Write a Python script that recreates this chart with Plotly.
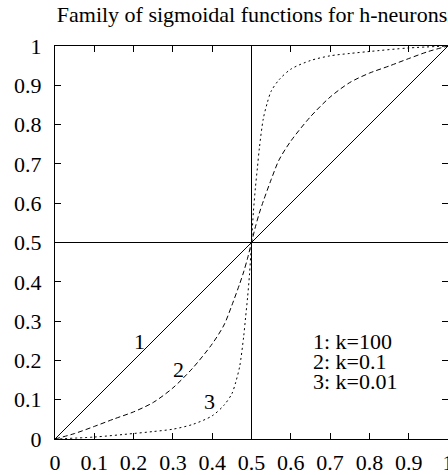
import plotly.graph_objects as go

# Curve 1: k=100 (almost linear)
x1 = [0.0, 1.0]
y1 = [0.0, 1.0]

# Curve 2: k=0.1 (dashed)
x2 = [0.0, 0.05, 0.1, 0.15, 0.2, 0.25, 0.3, 0.35, 0.4, 0.43, 0.45, 0.47, 0.48, 0.49, 0.5,
      0.51, 0.52, 0.53, 0.55, 0.57, 0.6, 0.65, 0.7, 0.75, 0.8, 0.85, 0.9, 0.95, 1.0]
y2 = [0.0, 0.014, 0.032, 0.051, 0.069, 0.093, 0.13, 0.18, 0.242, 0.29, 0.34, 0.395, 0.425, 0.46, 0.5,
      0.54, 0.575, 0.605, 0.66, 0.71, 0.758, 0.82, 0.87, 0.907, 0.931, 0.949, 0.968, 0.986, 1.0]

# Curve 3: k=0.01 (dotted)
x3 = [0.0, 0.1, 0.2, 0.25, 0.3, 0.35, 0.4, 0.43, 0.45, 0.46, 0.47, 0.48, 0.485, 0.49, 0.495, 0.5,
      0.505, 0.51, 0.515, 0.52, 0.53, 0.54, 0.55, 0.57, 0.6, 0.65, 0.7, 0.75, 0.8, 0.9, 1.0]
y3 = [0.0, 0.005, 0.014, 0.019, 0.025, 0.037, 0.059, 0.086, 0.115, 0.145, 0.185, 0.26, 0.31, 0.36, 0.42, 0.5,
      0.58, 0.64, 0.69, 0.74, 0.815, 0.855, 0.885, 0.914, 0.941, 0.963, 0.975, 0.981, 0.986, 0.995, 1.0]

tick_vals = [0, 0.1, 0.2, 0.3, 0.4, 0.5, 0.6, 0.7, 0.8, 0.9, 1]
tick_text = ["0", "0.1", "0.2", "0.3", "0.4", "0.5", "0.6", "0.7", "0.8", "0.9", "1"]

curve_labels = ["1", "2", "3"]
curve_label_x = [0.2155, 0.313, 0.393]
curve_label_y = [0.2485, 0.1766, 0.096]

legend_lines = ["1: k=100", "2: k=0.1", "3: k=0.01"]

FONT = "Liberation Serif, Times New Roman, serif"

fig = go.Figure()
fig.add_trace(go.Scatter(x=x1, y=y1, mode="lines", line=dict(color="black", width=1)))
fig.add_trace(go.Scatter(x=x2, y=y2, mode="lines",
                         line=dict(color="black", width=1, dash="5px,3px", shape="spline", smoothing=0.8)))
fig.add_trace(go.Scatter(x=x3, y=y3, mode="lines",
                         line=dict(color="black", width=1, dash="2px,3px", shape="spline", smoothing=0.8)))

shapes = [
    dict(type="line", xref="x", yref="y", x0=0.5, x1=0.5, y0=0, y1=1, line=dict(color="black", width=1)),
    dict(type="line", xref="x", yref="y", x0=0, x1=1, y0=0.5, y1=0.5, line=dict(color="black", width=1)),
]

annotations = []
for t, xx, yy in zip(curve_labels, curve_label_x, curve_label_y):
    annotations.append(dict(x=xx, y=yy, xref="x", yref="y", text=t, showarrow=False,
                            font=dict(family=FONT, size=22, color="black"),
                            xanchor="center", yanchor="middle"))
legend_text = "<br>".join('<span style="font-size:22px">%s</span>' % t for t in legend_lines)
annotations.append(dict(x=0.652, y=0.197, xref="x", yref="y", text=legend_text, showarrow=False,
                        align="left", font=dict(family=FONT, size=15.4, color="black"),
                        xanchor="left", yanchor="middle"))

axis_common = dict(range=[0, 1], showgrid=False, zeroline=False, showline=True, linecolor="black",
                   linewidth=1, mirror="ticks", ticks="inside", ticklen=6, tickcolor="black",
                   tickwidth=1, tickvals=tick_vals, ticktext=tick_text, automargin=False,
                   tickfont=dict(family=FONT, size=22, color="black"))

fig.update_layout(
    width=448, height=475,
    margin=dict(l=55, r=0, t=46, b=36),
    paper_bgcolor="white", plot_bgcolor="white",
    showlegend=False,
    title=dict(text="Family of sigmoidal functions for h-neurons", xref="container", yref="container",
               x=252 / 448, y=1 - 14 / 475, xanchor="center", yanchor="middle",
               font=dict(family=FONT, size=22, color="black")),
    xaxis=dict(**axis_common, ticklabelstandoff=4, ticklabeloverflow="allow"),
    yaxis=dict(**axis_common, ticklabelstandoff=8),
    shapes=shapes,
    annotations=annotations,
)

fig.write_html("out.html", config={"displayModeBar": False},
               post_script="document.body.style.margin='0';")
